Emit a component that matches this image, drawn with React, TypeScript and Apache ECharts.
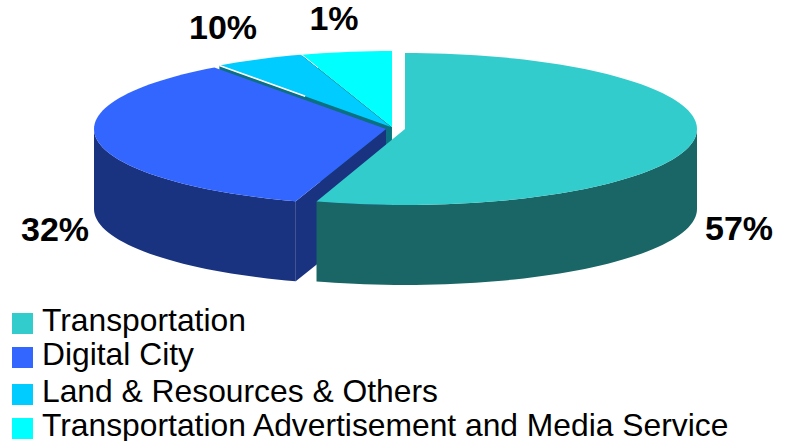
import React, { useEffect, useRef } from "react";
import * as echarts from "echarts";

// Slices in back-to-front draw order; shares are the drawn sizes.
const sliceNames = ["Transportation Advertisement and Media Service", "Land & Resources & Others", "Digital City", "Transportation"];
const drawnShares = [5, 5, 35, 54.9];
const shareLabels = ["1%", "10%", "32%", "57%"];
const legendOrder = ["Transportation", "Digital City", "Land & Resources & Others", "Transportation Advertisement and Media Service"];

// Styling and layout (not data)
const topColors = ["#00FFFF", "#00CCFF", "#3366FF", "#33CCCC"];
const wallColors = ["#007F80", "#0A7082", "#1A3380", "#1A6666"];
const centers = [[392, 127], [391, 127], [386, 129], [405, 129]];
const labelAnchors = [[334, 18], [223, 27], [55, 229], [739, 228]];
const legendTops = [304, 338, 375, 409];
const RX = 292, RY = 76, DEPTH = 80;
const FONT = "Liberation Sans";
// A 21px square sitting low in a 25x28 box, so that the label sits a little above its centre and further right.
const LEGEND_ICON = "path://M0 7H21V28H0ZM0 0L25 0";

// Clockwise from the top: the three back slices run back from 360, the last one starts at 0.
const startAngles: number[] = [];
{
  let end = 360;
  drawnShares.forEach((s, i) => {
    end -= (s / 100) * 360;
    startAngles[i] = i === drawnShares.length - 1 ? 0 : end;
  });
}

function renderSlice(idx: number) {
  return (_params: any, api: any) => {
    const [cx, cy] = centers[idx];
    const sweep = (api.value(0) / 100) * 360;
    const a0 = startAngles[idx];
    const a1 = a0 + sweep;
    const rim = (deg: number, dy = 0, f = 1) => {
      const r = (deg * Math.PI) / 180;
      return api.coord([cx + f * RX * Math.sin(r), cy - f * RY * Math.cos(r) + dy]);
    };
    const c = api.coord([cx, cy]);
    const cLow = api.coord([cx, cy + DEPTH]);
    const top: number[][] = [c];
    for (let a = a0; a < a1; a += 2) top.push(rim(a));
    top.push(rim(a1));
    const children: any[] = [];
    // outer wall, only the part facing the viewer (90..270 degrees)
    const w0 = Math.max(a0, 90), w1 = Math.min(a1, 270);
    if (w1 > w0) {
      const upper: number[][] = [];
      const lower: number[][] = [];
      for (let a = w0; a < w1; a += 2) { upper.push(rim(a)); lower.unshift(rim(a, DEPTH)); }
      upper.push(rim(w1));
      lower.unshift(rim(w1, DEPTH));
      children.push({ type: "polygon", shape: { points: [...upper, ...lower] }, style: { fill: wallColors[idx] } });
    }
    // cut faces visible on the left-hand slices
    if (idx <= 2) {
      children.push({ type: "polygon", shape: { points: [c, rim(a0), rim(a0, DEPTH), cLow] }, style: { fill: wallColors[idx] } });
    }
    children.push({ type: "polygon", shape: { points: top }, style: { fill: topColors[idx] } });
    // thin white seams
    if (idx === 0) {
      const p = rim(a0), q = rim(a0, 0, 0.82);
      children.push({ type: "line", shape: { x1: p[0], y1: p[1], x2: q[0], y2: q[1] }, style: { stroke: "#fff", lineWidth: 1 } });
    }
    if (idx === 1) {
      const p = rim(a0), q = rim(a0, 0, 0.5);
      children.push({ type: "line", shape: { x1: p[0], y1: p[1], x2: q[0], y2: q[1] }, style: { stroke: "#fff", lineWidth: 1.5 } });
    }
    const at = api.coord(labelAnchors[idx]);
    children.push({
      type: "text",
      z2: 100,
      style: { text: shareLabels[idx], x: at[0], y: at[1], fill: "#000", align: "center", verticalAlign: "middle", font: `bold 34px "${FONT}"` },
    });
    return { type: "group", children };
  };
}

export default function App() {
  const ref = useRef<HTMLDivElement>(null);
  useEffect(() => {
    const chart = echarts.init(ref.current!, null, { renderer: "svg" });
    chart.setOption({
      animation: false,
      backgroundColor: "#fff",
      grid: { left: 0, top: 0, width: 789, height: 441 },
      xAxis: { type: "value", min: 0, max: 789, show: false },
      yAxis: { type: "value", min: 0, max: 441, inverse: true, show: false },
      legend: legendOrder.map((name, i) => ({
        data: [name],
        left: 12,
        top: legendTops[i],
        padding: 0,
        icon: LEGEND_ICON,
        itemWidth: 25,
        itemHeight: 28,
        selectedMode: false,
        textStyle: { fontSize: 31.8, lineHeight: 26, fontFamily: FONT, color: "#000" },
      })),
      series: sliceNames.map((name, i) => ({
        type: "custom",
        name,
        coordinateSystem: "cartesian2d",
        clip: false,
        itemStyle: { color: topColors[i] },
        data: [drawnShares[i]],
        encode: { x: -1, y: -1 },
        renderItem: renderSlice(i),
        silent: true,
      })),
    });
    return () => chart.dispose();
  }, []);
  return <div ref={ref} style={{ position: "fixed", left: 0, top: 0, width: 789, height: 441 }} />;
}
